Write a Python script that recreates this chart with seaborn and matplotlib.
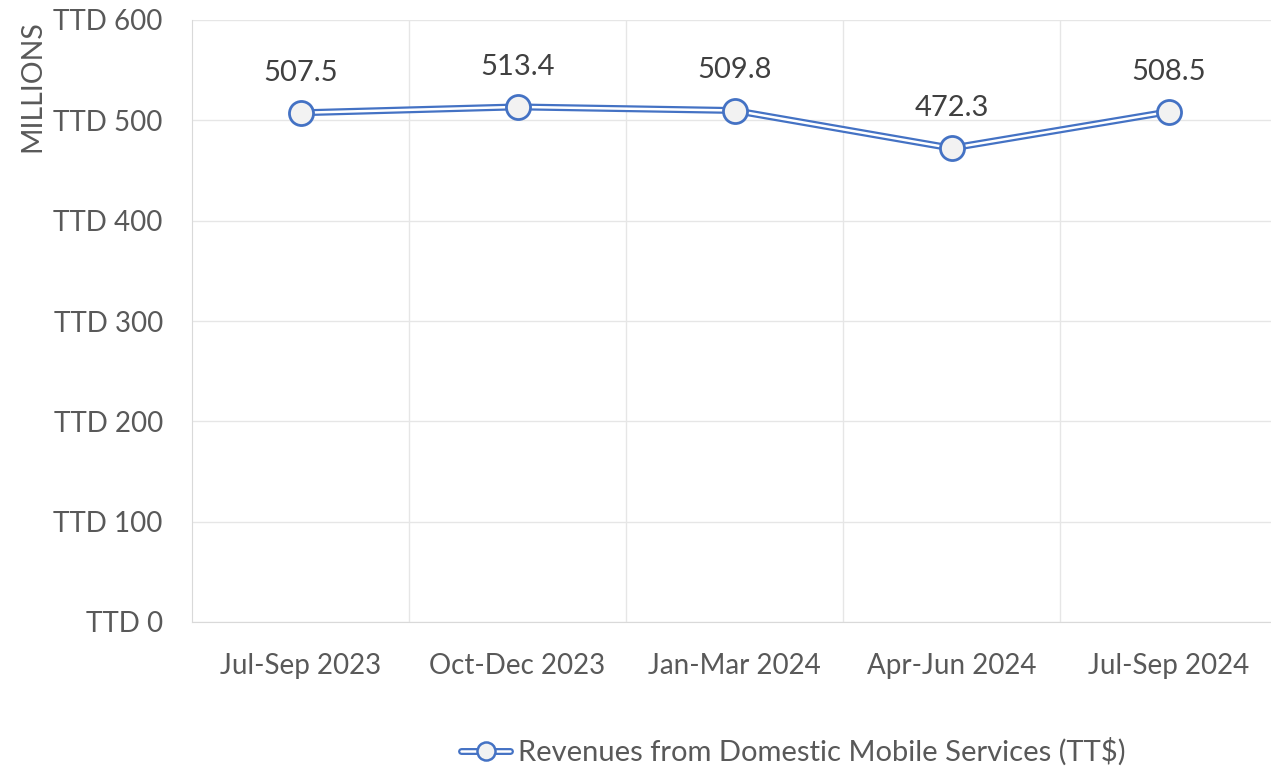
import numpy as np
import pandas as pd
import matplotlib
matplotlib.use('Agg')
import matplotlib.pyplot as plt
import seaborn as sns
from matplotlib.lines import Line2D

quarters = ['Jul-Sep 2023', 'Oct-Dec 2023', 'Jan-Mar 2024', 'Apr-Jun 2024', 'Jul-Sep 2024']
revenues = [507.5, 513.4, 509.8, 472.3, 508.5]
y_ticks = [0, 100, 200, 300, 400, 500, 600]
series_name = 'Revenues from Domestic Mobile Services (TT$)'

BLUE = '#4472C4'
TEXT = '#595959'
GRID = '#E6E6E6'

sns.set_style('white')
plt.rcParams['font.family'] = ['Lato', 'DejaVu Sans']

df = pd.DataFrame({'quarter': quarters, 'revenue': revenues})
df['pos'] = np.arange(len(quarters))

fig = plt.figure(figsize=(12.71, 7.72), dpi=100)
ax = fig.add_axes([192 / 1271, 1 - 622 / 772, (1277 - 192) / 1271, (622 - 20) / 772])

# double line: thick blue with a thin white stripe
sns.lineplot(data=df, x='pos', y='revenue', ax=ax, color=BLUE, linewidth=5.0, sort=False, zorder=3)
sns.lineplot(data=df, x='pos', y='revenue', ax=ax, color='white', linewidth=1.8, sort=False, zorder=4)
sns.scatterplot(data=df, x='pos', y='revenue', ax=ax, s=300, color='#F2F2F2',
                edgecolor=BLUE, linewidth=2, zorder=5)

for p, v in zip(df['pos'], df['revenue']):
    ax.annotate(f'{v:.1f}', (p, v), xytext=(0, 29), textcoords='offset points',
                ha='center', va='center', fontsize=21, color='#404040')

ax.set_xlim(-0.5, len(quarters) - 0.5)
ax.set_ylim(0, 600)
ax.set_yticks(y_ticks)
ax.set_yticklabels([f'TTD {t}' for t in y_ticks], fontsize=20, color=TEXT)
ax.set_xticks(df['pos'])
ax.set_xticklabels(quarters, fontsize=20, color=TEXT)
ax.tick_params(axis='both', length=0)
ax.tick_params(axis='y', pad=21)
ax.tick_params(axis='x', pad=22)
ax.grid(False)
for t in y_ticks:
    ax.axhline(t, color=GRID, linewidth=1, zorder=0)
for b in np.arange(0.5, len(quarters) - 0.5):
    ax.axvline(b, color=GRID, linewidth=1, zorder=0)
for s in ['top', 'right']:
    ax.spines[s].set_visible(False)
ax.spines['left'].set_color('#D9D9D9')
ax.spines['bottom'].set_color('#D9D9D9')
ax.set_xlabel('')
ax.set_ylabel('')
fig.text(32 / 1271, 1 - 20 / 772, 'MILLIONS', rotation=90, ha='center', va='top',
         fontsize=20.5, color=TEXT)

h_outer = Line2D([], [], color=BLUE, linewidth=5.0)
h_inner = Line2D([], [], color='white', linewidth=1.8)
h_mark = Line2D([], [], linestyle='none', marker='o', markersize=13,
                markerfacecolor='#F2F2F2', markeredgecolor=BLUE, markeredgewidth=1.8)
leg = fig.legend([(h_outer, h_inner, h_mark)], [series_name], loc='center',
                 bbox_to_anchor=(793 / 1271, 1 - 752 / 772), frameon=False,
                 fontsize=21, handlelength=1.7, handletextpad=0.25)
for t in leg.get_texts():
    t.set_color(TEXT)

fig.savefig('out.png', dpi=100)
